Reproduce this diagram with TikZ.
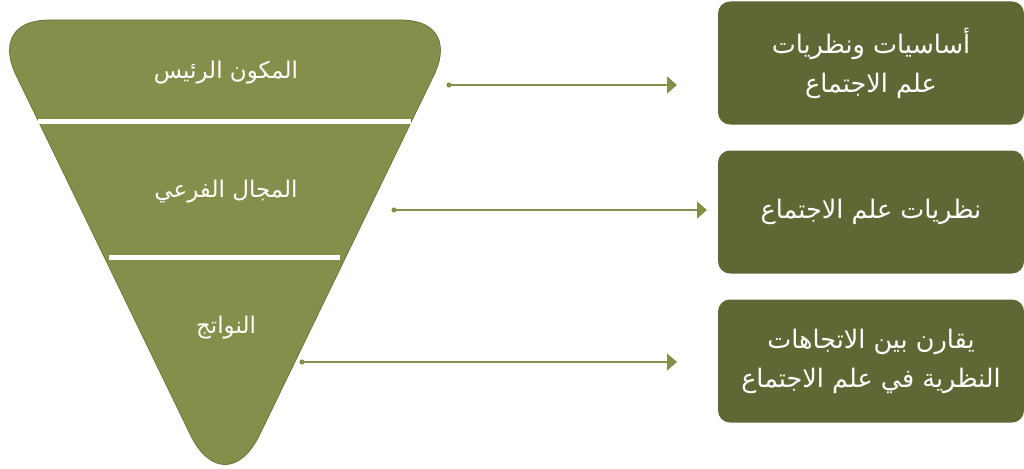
\documentclass[tikz,border=0pt]{standalone}
\usepackage{fontspec}
\usepackage{xcolor}
\usepackage{tikz}
\usetikzlibrary{calc,arrows.meta}
\TeXXeTstate=1
\newfontfamily\arabicfont[Script=Arabic]{DejaVu Sans}
\definecolor{olive}{HTML}{868E4B}
\definecolor{oliveEdge}{HTML}{6B7539}
\definecolor{boxGreen}{HTML}{5D6835}
\definecolor{arrowGreen}{HTML}{848F4A}
\tikzset{
  funnelShape/.style={fill=olive, draw=oliveEdge, line width=0.8pt},
  funnelCut/.style={draw=white, line width=5pt},
  funnelLabel/.style={text=white, font=\arabicfont\fontsize{23}{27}\selectfont, align=center},
  topicBox/.style={fill=boxGreen, rounded corners=12pt, minimum width=306pt, minimum height=123pt,
    text=white, font=\arabicfont\fontsize{25.5}{39}\selectfont, align=center},
  linkArrow/.style={draw=arrowGreen, line width=1.4pt, -{Triangle[length=10pt,width=17pt]}},
  linkDot/.style={fill=arrowGreen}
}

\begin{document}
\begin{tikzpicture}[x=1pt, y=-1pt]
  \useasboundingbox (0,0) rectangle (1024,468);

  % funnel
  \draw[funnelShape] (50,20) -- (400,20)
    .. controls (442,20) and (448,48) .. (433,77)
    -- (259,436)
    .. controls (240,474) and (210,474) .. (191,436)
    -- (17,77)
    .. controls (2,48) and (8,20) .. (50,20) -- cycle;

  \draw[funnelCut] (38,121) -- (411,121);
  \draw[funnelCut] (109,257) -- (340,257);

  \node[funnelLabel] (main) at (226,73) {\beginR المكون الرئيس\endR};
  \node[funnelLabel] (sub) at (226,192) {\beginR المجال الفرعي\endR};
  \node[funnelLabel] (out) at (226,328) {\beginR النواتج\endR};

  % boxes
  \node[topicBox] (basics) at (871,63) {\beginR أساسيات ونظريات\endR\\\beginR علم الاجتماع\endR};
  \node[topicBox] (theories) at (871,212) {\beginR نظريات علم الاجتماع\endR};
  \node[topicBox] (compare) at (871,361) {\beginR يقارن بين الاتجاهات\endR\\\beginR النظرية في علم الاجتماع\endR};

  % arrows
  \coordinate (s1) at (449,85);
  \coordinate (e1) at (677,85);
  \coordinate (s2) at (394,210);
  \coordinate (e2) at (707,210);
  \coordinate (s3) at (302,362);
  \coordinate (e3) at (677,362);

  \foreach \i in {1,2,3} {
    \draw[linkArrow] (s\i) -- (e\i);
    \fill[linkDot] (s\i) circle (2.6pt);
  }
\end{tikzpicture}
\end{document}
